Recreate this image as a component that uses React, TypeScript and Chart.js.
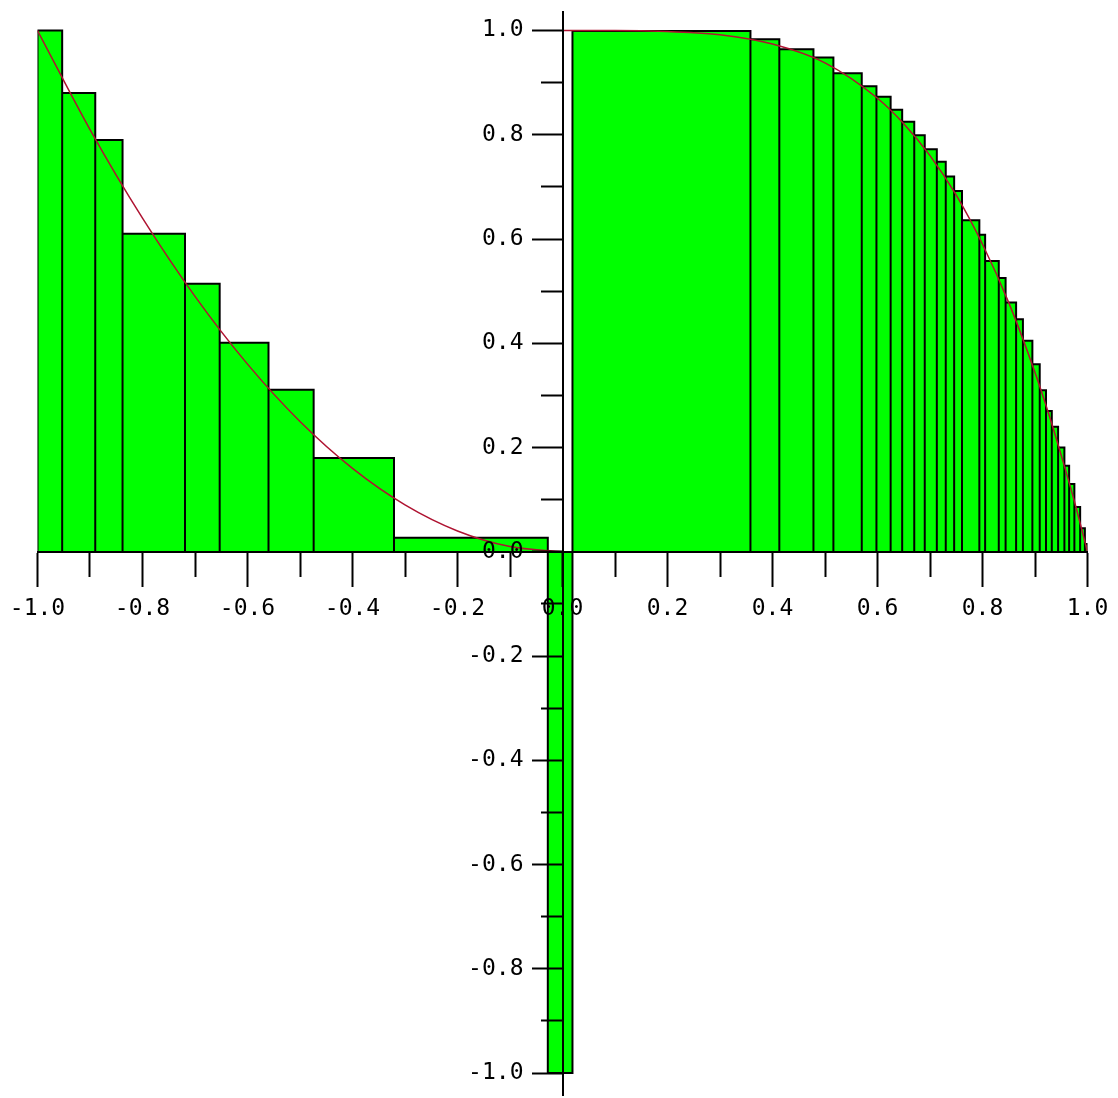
import React, { useEffect, useRef } from 'react';
import { Chart, registerables } from 'chart.js';

Chart.register(...registerables);

// Partition points of the Riemann-sum rectangles (x values) and their heights
const barEdges = [
  -1.0, -0.953, -0.890, -0.838, -0.719, -0.653, -0.560, -0.474, -0.321, -0.028,
  0.019, 0.358, 0.413, 0.478, 0.516, 0.570, 0.598, 0.625, 0.647, 0.670, 0.690,
  0.713, 0.730, 0.746, 0.761, 0.794, 0.805, 0.831, 0.844, 0.864, 0.877,
  0.895, 0.909, 0.921, 0.932, 0.944, 0.956, 0.965, 0.975, 0.986, 0.995, 1.0,
];
const barHeights = [
  1.0, 0.88, 0.79, 0.61, 0.514, 0.401, 0.311, 0.18, 0.027,
  -1.0,
  0.999, 0.983, 0.964, 0.948, 0.918, 0.893, 0.873, 0.848, 0.825, 0.799, 0.772,
  0.748, 0.72, 0.692, 0.636, 0.608, 0.558, 0.525, 0.478, 0.446, 0.405,
  0.36, 0.31, 0.27, 0.24, 0.2, 0.165, 0.13, 0.086, 0.045, 0.015,
];

// Red curve, left branch and right branch
const leftCurveX = [-1.0, -0.9, -0.8, -0.7, -0.6, -0.5, -0.4, -0.3, -0.2, -0.1, 0.0];
const leftCurveY = [1.0, 0.81, 0.64, 0.49, 0.36, 0.25, 0.16, 0.09, 0.04, 0.01, 0.0];
const rightCurveX = [0.0, 0.1, 0.2, 0.3, 0.4, 0.5, 0.6, 0.65, 0.7, 0.75, 0.8, 0.85, 0.9, 0.925, 0.95, 0.975, 1.0];
const rightCurveY = [1.0, 1.0, 0.998, 0.992, 0.974, 0.938, 0.870, 0.821, 0.760, 0.684, 0.590, 0.478, 0.344, 0.268, 0.185, 0.097, 0.0];

// Axis ticks
const xMajorTicks = [-1.0, -0.8, -0.6, -0.4, -0.2, 0.0, 0.2, 0.4, 0.6, 0.8, 1.0];
const xMinorTicks = [-0.9, -0.7, -0.5, -0.3, -0.1, 0.1, 0.3, 0.5, 0.7, 0.9];
const yMajorTicks = [-1.0, -0.8, -0.6, -0.4, -0.2, 0.0, 0.2, 0.4, 0.6, 0.8, 1.0];
const yMinorTicks = [-0.9, -0.7, -0.5, -0.3, -0.1, 0.1, 0.3, 0.5, 0.7, 0.9];
const xLabels = ['-1.0', '-0.8', '-0.6', '-0.4', '-0.2', '0.0', '0.2', '0.4', '0.6', '0.8', '1.0'];
const yLabels = ['-1.0', '-0.8', '-0.6', '-0.4', '-0.2', '0.0', '0.2', '0.4', '0.6', '0.8', '1.0'];

const xMin = -1.0;
const xMax = 1.0;
const yMin = -1.042;
const yMax = 1.0355;

function buildBarPath() {
  const pts: { x: number; y: number }[] = [{ x: barEdges[0], y: 0 }];
  for (let i = 0; i < barHeights.length; i++) {
    pts.push({ x: barEdges[i], y: barHeights[i] });
    pts.push({ x: barEdges[i + 1], y: barHeights[i] });
    pts.push({ x: barEdges[i + 1], y: 0 });
  }
  return pts;
}

const zeroFit = (s: any) => {
  if (s.isHorizontal()) s.height = 0;
  else s.width = 0;
  s.paddingLeft = 0;
  s.paddingRight = 0;
  s.paddingTop = 0;
  s.paddingBottom = 0;
};

// y labels of a value-positioned axis sit on the axis line; move them left of the ticks
const Y_LABEL_SHIFT = 39;
const shiftYLabels = (s: any) => {
  if (s.__shifted) return;
  s.__shifted = true;
  const orig = s._computeLabelItems;
  s._computeLabelItems = function (ca: any) {
    const items = orig.call(this, ca);
    for (const it of items) {
      const t = it.options.translation;
      it.options.translation = [t[0] - Y_LABEL_SHIFT, t[1]];
    }
    return items;
  };
};

const tickFont = { family: 'DejaVu Sans Mono', size: 23 };

export default function App() {
  const ref = useRef<HTMLCanvasElement | null>(null);
  useEffect(() => {
    if (!ref.current) return;
    const chart = new Chart(ref.current, {
      type: 'line',
      data: {
        datasets: [
          {
            label: 'curve-left',
            data: leftCurveX.map((x, i) => ({ x, y: leftCurveY[i] })),
            borderColor: 'rgb(175,20,50)',
            borderWidth: 1.5,
            pointRadius: 0,
            fill: false,
            cubicInterpolationMode: 'monotone',
            order: 1,
          },
          {
            label: 'curve-right',
            data: rightCurveX.map((x, i) => ({ x, y: rightCurveY[i] })),
            borderColor: 'rgb(175,20,50)',
            borderWidth: 1.5,
            pointRadius: 0,
            fill: false,
            cubicInterpolationMode: 'monotone',
            order: 1,
          },
          {
            label: 'rectangles',
            data: buildBarPath(),
            borderColor: '#000000',
            backgroundColor: '#00ff00',
            borderWidth: 2,
            borderJoinStyle: 'miter',
            pointRadius: 0,
            tension: 0,
            fill: 'origin',
            order: 2,
          },
        ],
      } as any,
      options: {
        responsive: false,
        animation: false,
        devicePixelRatio: 1,
        parsing: false,
        normalized: true,
        layout: { padding: { left: 37.5, right: 30.5, top: 12, bottom: 3 } },
        plugins: { legend: { display: false }, tooltip: { enabled: false } },
        scales: {
          xMinor: {
            type: 'linear', axis: 'x', min: xMin, max: xMax, position: { y: 0 },
            afterBuildTicks: (s: any) => { s.ticks = xMinorTicks.map((v) => ({ value: v })); },
            afterFit: zeroFit,
            grid: { z: 1, drawOnChartArea: false, drawTicks: true, tickLength: 25, tickWidth: 2, tickColor: '#000' },
            border: { display: false },
            ticks: { display: false },
          },
          yMinor: {
            type: 'linear', axis: 'y', min: yMin, max: yMax, position: { x: 0 },
            afterBuildTicks: (s: any) => { s.ticks = yMinorTicks.map((v) => ({ value: v })); },
            afterFit: zeroFit,
            grid: { z: 1, drawOnChartArea: false, drawTicks: true, tickLength: 22, tickWidth: 2, tickColor: '#000' },
            border: { display: false },
            ticks: { display: false },
          },
          x: {
            type: 'linear', axis: 'x', min: xMin, max: xMax, position: { y: 0 },
            afterBuildTicks: (s: any) => { s.ticks = xMajorTicks.map((v) => ({ value: v })); },
            afterFit: zeroFit,
            grid: { z: 2, drawOnChartArea: false, drawTicks: true, tickLength: 34, tickWidth: 2, tickColor: '#000' },
            border: { z: 2, display: true, color: '#000', width: 2 },
            ticks: {
              z: 3, autoSkip: false, maxRotation: 0, minRotation: 0, padding: 9, color: '#000', font: tickFont,
              callback: (_v: any, i: number) => xLabels[i],
            },
          },
          y: {
            type: 'linear', axis: 'y', min: yMin, max: yMax, position: { x: 0 },
            afterBuildTicks: (s: any) => { s.ticks = yMajorTicks.map((v) => ({ value: v })); },
            afterFit: (s: any) => { zeroFit(s); shiftYLabels(s); },
            grid: { z: 2, drawOnChartArea: false, drawTicks: true, tickLength: 30, tickWidth: 2, tickColor: '#000' },
            border: { z: 2, display: true, color: '#000', width: 2 },
            ticks: {
              z: 3, autoSkip: false, padding: 9, color: '#000', font: tickFont,
              callback: (_v: any, i: number) => yLabels[i],
            },
          },
        },
      } as any,
    });
    return () => chart.destroy();
  }, []);
  return (
    <div style={{ position: 'fixed', left: 0, top: 0, width: 1118, height: 1098, background: '#fff' }}>
      <canvas ref={ref} width={1118} height={1098} style={{ width: 1118, height: 1098, display: 'block' }} />
    </div>
  );
}
